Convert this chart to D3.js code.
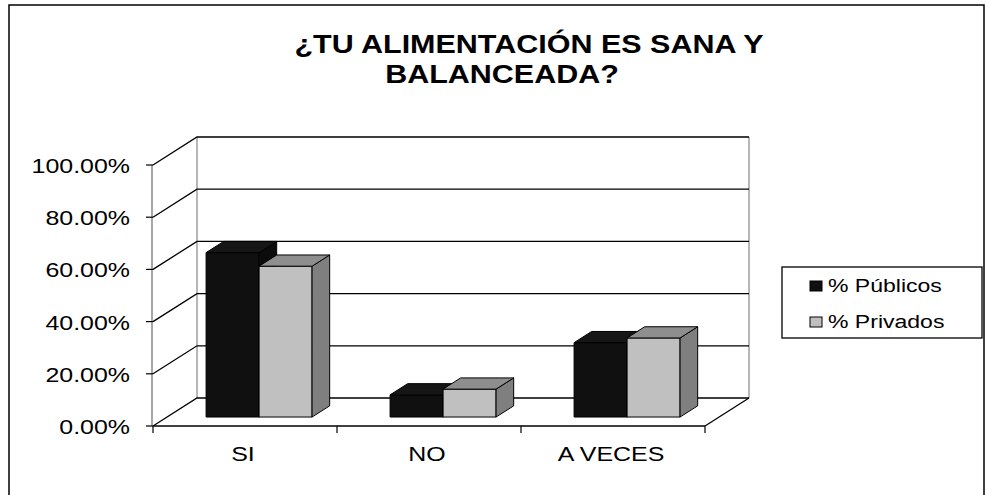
<html>
<head>
<meta charset="utf-8">
<title>Alimentacion</title>
<script src="https://d3js.org/d3.v7.min.js"></script>
<style type="text/css">
body{ margin:0; background:#fff; }
text{ font-family:"Liberation Sans", Arial, sans-serif; fill:#000; }
.grid{ stroke:#000; stroke-width:1.3; fill:none; }
.wall{ stroke:#888; stroke-width:1.2; fill:none; }
.face{ stroke:#000; stroke-width:1; stroke-linejoin:round; }
</style>
</head>
<body>
<script>
var categories = ['SI', 'NO', 'A VECES'];
var seriesNames = ['% Públicos', '% Privados'];
var publicos = [0.63, 0.085, 0.285];
var privados = [0.578, 0.107, 0.303];
var yTicks = [0, 0.2, 0.4, 0.6, 0.8, 1];
var yTickLabels = ['0.00%', '20.00%', '40.00%', '60.00%', '80.00%', '100.00%'];
var titleLines = ['¿TU ALIMENTACIÓN ES SANA Y', 'BALANCEADA?'];

var series = [
	{name:seriesNames[0], values:publicos, front:'#101010', top:'#161616', side:'#0c0c0c'},
	{name:seriesNames[1], values:privados, front:'#c0c0c0', top:'#8e8e8e', side:'#7f7f7f'}
];

var W = 986, H = 495, SX = 1.28;
var DX = 44, DY = 28;   // depth offset of the back wall

var svg = d3.select('body').append('svg').attr('width', W).attr('height', H);

var x = d3.scaleBand().domain(categories).range([153, 705]);
var xs = d3.scaleBand().domain(d3.range(series.length)).range([0, x.bandwidth()]).paddingOuter(0.736);
var y = d3.scaleLinear().domain([0, 1]).range([426, 165]);

function P(px, v, z){ return [px + z*DX, y(v) - z*DY]; }
function poly(pts){ return 'M' + pts.map(function(p){ return p.join(','); }).join('L') + 'Z'; }

// text squeezed like the source image (wide glyphs)
function label(g, tx, ty, str, size, anchor, weight, sx){
	g.append('g').attr('transform', 'translate(' + tx + ',' + ty + ') scale(' + (sx || SX) + ',1)')
		.append('text').attr('text-anchor', anchor).attr('font-size', size)
		.attr('font-weight', weight || 'normal').text(str);
}

// outer frame
svg.append('path').attr('d', 'M9,495V5H984V495').attr('fill', 'none').attr('stroke', '#000').attr('stroke-width', 1.5);

// title
label(svg, 529, 53, titleLines[0], 25, 'middle', 'bold', 1.22);
label(svg, 502, 83, titleLines[1], 25, 'middle', 'bold', 1.22);

var x0 = x.range()[0], x1 = x.range()[1];
var walls = svg.append('g');

// back wall edges
walls.append('path').attr('class', 'wall')
	.attr('d', 'M' + P(x0, 0, 1) + 'L' + P(x0, 1, 1) + 'M' + P(x1, 0, 1) + 'L' + P(x1, 1, 1));

// gridlines on back wall + side wall
yTicks.forEach(function(t){
	walls.append('path').attr('class', 'grid')
		.attr('d', 'M' + P(x0, t, 0) + 'L' + P(x0, t, 1) + 'L' + P(x1, t, 1));
});
// floor right edge
walls.append('path').attr('class', 'grid').attr('d', 'M' + P(x1, 0, 1) + 'L' + P(x1, 0, 0));

// value axis
walls.append('path').attr('stroke', '#777').attr('stroke-width', 1.3).attr('fill', 'none')
	.attr('d', 'M' + P(x0 - 1, 0, 0) + 'L' + P(x0 - 1, 1, 0));
yTicks.forEach(function(t, i){
	walls.append('line').attr('x1', x0 - 7).attr('x2', x0).attr('y1', y(t)).attr('y2', y(t))
		.attr('stroke', '#000').attr('stroke-width', 1.2);
	label(svg, 130, y(t) + 8, yTickLabels[i], 19.5, 'end');
});

// category axis
walls.append('line').attr('x1', x0).attr('x2', x1).attr('y1', y(0)).attr('y2', y(0))
	.attr('stroke', '#000').attr('stroke-width', 1.5);
[x0].concat(categories.map(function(c){ return x(c) + x.bandwidth(); })).forEach(function(px){
	walls.append('line').attr('x1', px).attr('x2', px).attr('y1', y(0)).attr('y2', y(0) + 7)
		.attr('stroke', '#000').attr('stroke-width', 1.2);
});
categories.forEach(function(c){
	label(svg, x(c) + x.bandwidth()/2 - 2, 461, c, 19.5, 'middle');
});

// 3d bars
var z0 = 0.32, z1 = 0.72;
var bars = svg.append('g');
categories.forEach(function(c, ci){
	series.forEach(function(s, si){
		var a = x(c) + xs(si), b = a + xs.bandwidth(), v = s.values[ci];
		var g = bars.append('g');
		g.append('path').attr('class', 'face').attr('fill', s.front)
			.attr('d', poly([P(a, 0, z0), P(a, v, z0), P(b, v, z0), P(b, 0, z0)]));
		g.append('path').attr('class', 'face').attr('fill', s.side)
			.attr('d', poly([P(b, 0, z0), P(b, v, z0), P(b, v, z1), P(b, 0, z1)]));
		g.append('path').attr('class', 'face').attr('fill', s.top)
			.attr('d', poly([P(a, v, z0), P(a, v, z1), P(b, v, z1), P(b, v, z0)]));
	});
});

// legend
var lg = svg.append('g');
lg.append('rect').attr('x', 782).attr('y', 267).attr('width', 200).attr('height', 71)
	.attr('fill', 'none').attr('stroke', '#000').attr('stroke-width', 1.3);
series.forEach(function(s, i){
	var ly = 292 + i*36;
	lg.append('rect').attr('x', 810).attr('y', ly - 11).attr('width', 12).attr('height', 10)
		.attr('fill', s.front).attr('stroke', '#000').attr('stroke-width', 1);
	label(lg, 828, ly, s.name, 18, 'start');
});
</script>
</body>
</html>
